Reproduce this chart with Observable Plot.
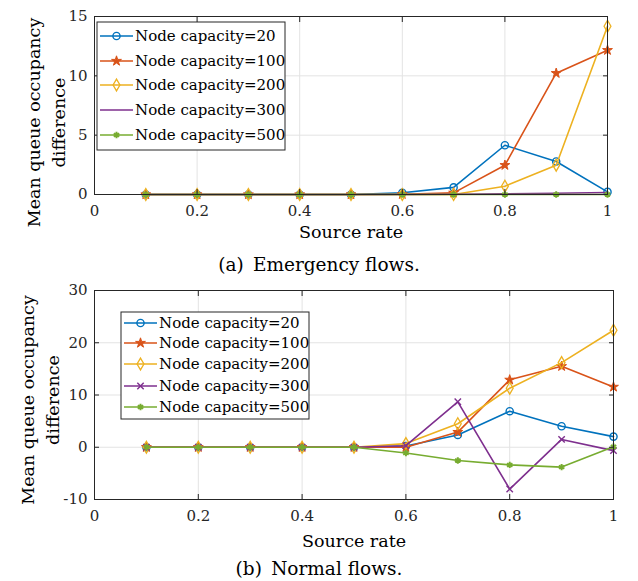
<!DOCTYPE html>
<html><head><meta charset="utf-8">
<script src="https://cdn.jsdelivr.net/npm/d3@7"></script>
<script src="https://cdn.jsdelivr.net/npm/@observablehq/plot@0.6"></script>
<style>
body{margin:0;background:#fff;}
#wrap{position:relative;width:638px;height:581px;font-family:"DejaVu Serif",serif;color:#000;}
.panel{position:absolute;left:0;}
.cap{position:absolute;left:0;width:638px;text-align:center;font-size:18.5px;line-height:20px;color:#000;font-family:"DejaVu Serif",serif;}
</style></head><body><div id="wrap"></div>
<script>
// ---------- data ----------
const sourceRates = [0.1,0.2,0.3,0.4,0.5,0.6,0.7,0.8,0.9,1.0];
const seriesNames = ["Node capacity=20","Node capacity=100","Node capacity=200","Node capacity=300","Node capacity=500"];
const seriesColors = ["#0072BD","#D95319","#EDB120","#7E2F8E","#77AC30"];
const xTicks = [0,0.2,0.4,0.6,0.8,1];

// (a) Emergency flows
const emerg20  = [0,0,0,0,0,0.15,0.6,4.15,2.78,0.22];
const emerg100 = [0,0,0,0,0,0.02,0.14,2.47,10.22,12.16];
const emerg200 = [0,0,0,0,0,0,0,0.7,2.47,14.18];
const emerg300 = [0,0,0,0,0,0,0.02,0.05,0.1,0.17];
const emerg500 = [0,0,0,0,0,0,0,0,0,0];
const emergYTicks = [0,5,10,15];

// (b) Normal flows
const normal20  = [0,0,0,0,0,0.25,2.36,6.9,4.02,2.04];
const normal100 = [0,0,0,0,0,0,2.9,12.9,15.5,11.55];
const normal200 = [0,0,0,0,0,0.7,4.5,11.3,16.2,22.4];
const normal300 = [0,0,0,0,0,0.3,8.7,-8.0,1.5,-0.65];
const normal500 = [0,0,0,0,0,-1.1,-2.55,-3.38,-3.8,0.1];
const normalYTicks = [-10,0,10,20,30];

const symbolsA = ["circle","star","diamond",null,"asterisk"];
const symbolsB = ["circle","star","diamond","times","asterisk"];
const d3Symbols = {circle:d3.symbolCircle, star:d3.symbolStar, diamond:d3.symbolDiamond, times:d3.symbolTimes||d3.symbolCross, asterisk:d3.symbolAsterisk||d3.symbolCross};
const symFill = {circle:"none", star:"color", diamond:"none", times:"none", asterisk:"color"};
const symR = {circle:3.6, star:3.1, diamond:3.6, times:3.0, asterisk:3.0};
const symW = {circle:1.4, star:1, diamond:1.3, times:1.4, asterisk:2};

const FONT = 15;
const LFONT = 17.5;
const AXC = "#262626";

function legendMark(ox, oy, w, h, rowOffsets, symbols){
  return (index, scales, values, dims) => {
    const g = d3.create("svg:g");
    const x0 = dims.marginLeft + ox, y0 = dims.marginTop + oy;
    g.append("rect").attr("x",x0).attr("y",y0).attr("width",w).attr("height",h)
      .attr("fill","white").attr("stroke",AXC).attr("stroke-width",1);
    seriesNames.forEach((name,i)=>{
      const y = y0 + rowOffsets[i];
      g.append("line").attr("x1",x0+3).attr("x2",x0+36).attr("y1",y).attr("y2",y)
        .attr("stroke",seriesColors[i]).attr("stroke-width",1.6);
      const s = symbols[i];
      if (s) {
        const r = symR[s];
        g.append("path").attr("d", d3.symbol(d3Symbols[s], r*r*Math.PI)())
          .attr("transform",`translate(${x0+19.5},${y})`)
          .attr("fill", symFill[s]==="color"?seriesColors[i]:"none")
          .attr("stroke",seriesColors[i]).attr("stroke-width",symW[s]);
      }
      g.append("text").attr("x",x0+38).attr("y",y).attr("dy","0.36em")
        .attr("text-anchor","start")
        .attr("font-size",FONT).attr("fill","#000").text(name);
    });
    return g.node();
  };
}

function makePanel(cfg){
  const marks = [
    Plot.gridX(xTicks.slice(1,-1), {stroke:"#e3e3e3", strokeOpacity:1}),
    Plot.gridY(cfg.yTicks.slice(1,-1), {stroke:"#e3e3e3", strokeOpacity:1}),
  ];
  cfg.series.forEach((vals,s)=>{
    const rows = vals.map((v,i)=>({x:sourceRates[i], y:v}));
    marks.push(Plot.line(rows, {x:"x", y:"y", stroke:seriesColors[s], strokeWidth:1.6}));
    const sym = cfg.symbols[s];
    if (sym) marks.push(Plot.dot(rows, {x:"x", y:"y", symbol:sym, r:symR[sym],
      stroke:seriesColors[s], fill: symFill[sym]==="color"?seriesColors[s]:"none", strokeWidth:symW[sym]}));
  });
  marks.push(
    Plot.frame({stroke:AXC, strokeWidth:1}),
    Plot.axisX(xTicks, {anchor:"bottom", tickSize:-5, tickPadding:16, fontSize:FONT, label:null, stroke:AXC, tickFormat:d=>String(d)}),
    Plot.axisX(xTicks, {anchor:"top", tickSize:-5, label:null, stroke:AXC, tickFormat:()=>""}),
    Plot.axisY(cfg.yTicks, {anchor:"left", tickSize:-5, tickPadding:12, fontSize:FONT, label:null, stroke:AXC, tickFormat:d=>String(d)}),
    Plot.axisY(cfg.yTicks, {anchor:"right", tickSize:-5, label:null, stroke:AXC, tickFormat:()=>""}),
    Plot.text(["Source rate"], {frameAnchor:"bottom", dy:cfg.xLabelDy, fontSize:LFONT, lineAnchor:"middle", fill:"#000"}),
    Plot.text(["Mean queue occupancy\ndifference"], {frameAnchor:"left", dx:cfg.yLabelDx, dy:cfg.yLabelDy, rotate:-90, fontSize:LFONT, lineHeight:1.45, textAnchor:"middle", lineAnchor:"middle", fill:"#000"}),
    legendMark(...cfg.legend, cfg.symbols)
  );
  return Plot.plot({
    width:638, height:cfg.height,
    marginLeft:94, marginRight:cfg.marginRight, marginTop:cfg.marginTop, marginBottom:cfg.marginBottom,
    style:{fontFamily:"DejaVu Serif, serif", color:AXC, background:"white", overflow:"visible"},
    x:{domain:[0,1]},
    y:{domain:[cfg.yTicks[0], cfg.yTicks[cfg.yTicks.length-1]]},
    marks
  });
}

const wrap = document.getElementById("wrap");

const pa = makePanel({
  series:[emerg20,emerg100,emerg200,emerg300,emerg500], symbols:symbolsA, yTicks:emergYTicks,
  height:250, marginTop:16, marginBottom:56, marginRight:31,
  xLabelDy:38, yLabelDx:-50, yLabelDy:17,
  legend:[3,6,188,128,[14,39,63,88,113]]
});
pa.classList.add("panel"); pa.style.top="0px"; pa.style.position="absolute";
wrap.appendChild(pa);

const capA = document.createElement("div");
capA.className="cap"; capA.style.top="255px"; capA.textContent="(a)\u2002Emergency flows.";
wrap.appendChild(capA);

const pb = makePanel({
  series:[normal20,normal100,normal200,normal300,normal500], symbols:symbolsB, yTicks:normalYTicks,
  height:280, marginTop:15, marginBottom:56, marginRight:25,
  xLabelDy:41.5, yLabelDx:-56, yLabelDy:5,
  legend:[27,22,188,107,[11,31,52,74,95]]
});
pb.classList.add("panel"); pb.style.top="275px"; pb.style.position="absolute";
wrap.appendChild(pb);

const capB = document.createElement("div");
capB.className="cap"; capB.style.top="559px"; capB.textContent="(b)\u2002Normal flows.";
wrap.appendChild(capB);
</script>
</body></html>
